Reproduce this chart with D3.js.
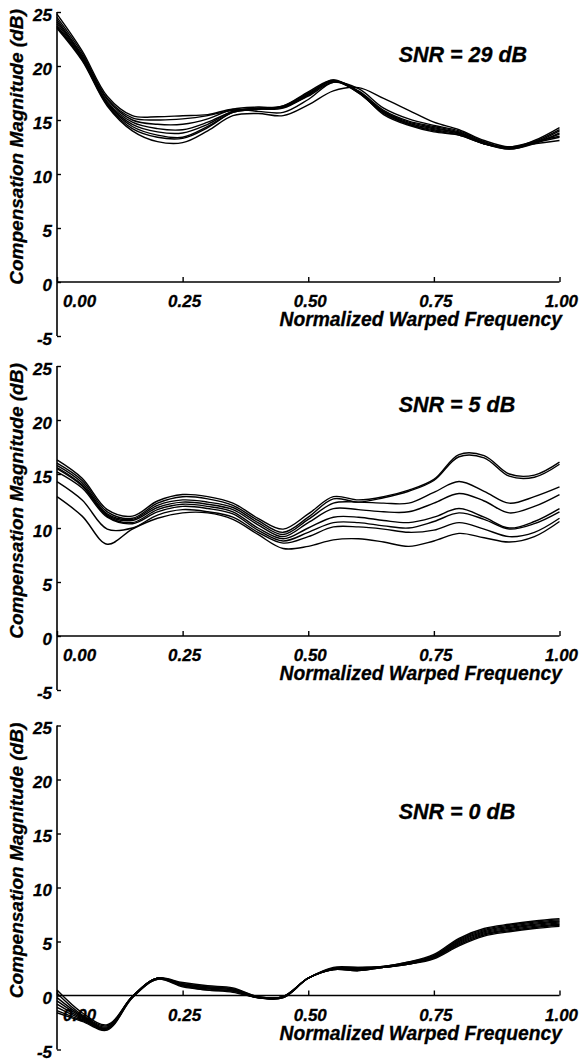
<!DOCTYPE html>
<html>
<head>
<meta charset="utf-8">
<script src="https://cdn.jsdelivr.net/npm/d3@7"></script>
<style>
	body { margin: 0; background: #fff; }
	svg text { font-family: "Liberation Sans", Arial, sans-serif; font-weight: bold; font-style: italic; fill: #000; stroke: #000; stroke-width: 0.3px; }
</style>
</head>
<body>
<div id="chart"></div>
<script>

// normalized warped frequency, sampling points used for all curves
var freq = [0, 0.05, 0.10, 0.15, 0.20, 0.25, 0.30, 0.35, 0.40, 0.45, 0.50,
	0.55, 0.60, 0.65, 0.70, 0.75, 0.80, 0.85, 0.90, 0.95, 1.00];

// compensation magnitude (dB), one row per trial
var snr29Curves = [
	[24.8, 21.4, 17.2, 15.4, 15.3, 15.4, 15.5, 16.0, 15.8, 15.7, 16.9, 18.5, 17.9, 16.1, 15.1, 14.5, 14.0, 13.0, 12.4, 13.0, 14.1],
	[24.5, 21.2, 17.0, 15.2, 15.0, 15.1, 15.4, 15.9, 16.0, 16.1, 17.3, 18.6, 17.7, 15.9, 14.9, 14.4, 13.9, 12.9, 12.4, 13.1, 14.3],
	[24.3, 21.0, 16.9, 15.0, 14.6, 14.6, 15.1, 16.0, 16.2, 16.2, 17.4, 18.7, 17.6, 15.8, 14.8, 14.3, 13.8, 12.9, 12.3, 12.9, 14.0],
	[24.1, 20.9, 16.7, 14.8, 14.2, 14.1, 14.8, 15.8, 16.1, 16.3, 17.6, 18.7, 17.5, 15.7, 14.7, 14.2, 13.8, 12.8, 12.3, 12.8, 13.8],
	[23.9, 20.8, 16.6, 14.6, 13.9, 13.8, 14.6, 15.8, 16.1, 16.2, 17.4, 18.6, 17.5, 15.6, 14.6, 14.1, 13.7, 12.8, 12.4, 12.9, 13.7],
	[23.7, 20.7, 16.5, 14.4, 13.6, 13.4, 14.4, 15.7, 16.0, 16.2, 17.2, 18.5, 17.6, 15.7, 14.6, 14.0, 13.6, 12.8, 12.5, 13.0, 13.5],
	[23.6, 20.6, 16.4, 14.2, 13.4, 13.3, 14.3, 15.7, 16.0, 16.3, 17.5, 18.6, 17.6, 15.5, 14.5, 13.9, 13.6, 12.8, 12.5, 12.9, 13.4],
	[23.5, 20.5, 16.3, 14.0, 13.0, 12.9, 14.0, 15.4, 15.6, 15.4, 16.4, 17.7, 18.0, 17.0, 15.9, 14.8, 14.1, 13.1, 12.5, 12.8, 13.1]
];

var snr5Curves = [
	[16.3, 14.6, 11.7, 11.1, 12.5, 13.1, 12.9, 12.3, 10.9, 9.9, 11.3, 12.9, 12.6, 12.9, 13.5, 14.5, 16.8, 16.7, 15.0, 14.9, 16.1],
	[16.0, 14.4, 11.5, 10.9, 12.3, 12.9, 12.7, 12.1, 10.7, 9.6, 11.0, 12.7, 12.4, 12.8, 13.4, 14.4, 16.6, 16.5, 14.8, 14.7, 15.9],
	[15.8, 14.2, 11.3, 10.8, 12.1, 12.6, 12.4, 11.9, 10.5, 9.4, 10.8, 12.3, 12.4, 12.3, 12.3, 13.3, 14.3, 13.4, 12.3, 12.9, 13.8],
	[15.6, 14.0, 11.2, 10.7, 11.9, 12.4, 12.2, 11.7, 10.3, 9.2, 10.5, 11.8, 11.7, 11.5, 11.5, 12.3, 13.2, 12.5, 11.4, 12.0, 13.1],
	[15.5, 13.9, 11.1, 10.5, 11.7, 12.2, 12.0, 11.5, 10.0, 9.0, 10.0, 11.0, 11.0, 10.7, 10.5, 11.0, 11.8, 11.0, 10.0, 10.6, 11.8],
	[15.2, 13.7, 11.0, 10.4, 11.5, 12.0, 11.8, 11.3, 9.8, 8.8, 9.6, 10.5, 10.5, 10.2, 10.0, 10.6, 11.4, 10.8, 9.9, 10.4, 11.5],
	[14.3, 12.6, 9.9, 10.0, 11.2, 11.7, 11.5, 11.0, 9.6, 8.6, 9.2, 10.1, 10.1, 9.9, 9.6, 9.8, 10.5, 9.9, 9.2, 9.6, 10.9],
	[12.9, 11.1, 8.5, 9.9, 10.9, 11.4, 11.4, 10.8, 9.4, 8.1, 8.3, 8.9, 9.0, 8.7, 8.3, 8.8, 9.5, 9.1, 8.7, 9.2, 10.6]
];

var snr0Curves = [
	[0.5, -1.6, -2.7, -0.1, 1.6, 1.2, 0.9, 0.7, -0.1, -0.1, 1.6, 2.6, 2.6, 2.7, 3.1, 3.8, 5.3, 6.2, 6.6, 6.9, 7.1],
	[0.2, -1.8, -2.8, -0.1, 1.6, 1.1, 0.8, 0.6, -0.1, -0.1, 1.6, 2.5, 2.6, 2.7, 3.1, 3.7, 5.2, 6.1, 6.5, 6.8, 7.0],
	[-0.2, -1.9, -2.9, -0.1, 1.6, 1.1, 0.8, 0.6, -0.2, -0.1, 1.6, 2.5, 2.5, 2.7, 3.0, 3.7, 5.1, 6.0, 6.4, 6.7, 6.9],
	[-0.5, -2.0, -3.0, -0.1, 1.6, 1.0, 0.7, 0.5, -0.2, -0.1, 1.6, 2.5, 2.5, 2.6, 3.0, 3.6, 5.0, 5.9, 6.3, 6.6, 6.8],
	[-0.8, -2.1, -3.0, -0.1, 1.6, 1.0, 0.7, 0.5, -0.2, -0.1, 1.6, 2.4, 2.4, 2.6, 3.0, 3.6, 4.9, 5.8, 6.2, 6.5, 6.7],
	[-1.1, -2.2, -3.1, -0.1, 1.6, 0.9, 0.6, 0.4, -0.2, -0.2, 1.6, 2.4, 2.4, 2.6, 2.9, 3.5, 4.8, 5.7, 6.1, 6.4, 6.6],
	[-1.4, -2.3, -3.1, -0.2, 1.5, 0.9, 0.5, 0.4, -0.2, -0.2, 1.6, 2.4, 2.3, 2.6, 2.9, 3.5, 4.7, 5.6, 6.0, 6.3, 6.5],
	[-1.6, -2.4, -3.2, -0.2, 1.5, 0.8, 0.5, 0.3, -0.2, -0.2, 1.6, 2.4, 2.3, 2.6, 2.9, 3.4, 4.6, 5.5, 5.9, 6.2, 6.4]
];

var snrLabels = ["SNR = 29 dB", "SNR = 5 dB", "SNR = 0 dB"];
var xTicks = [0, 0.25, 0.5, 0.75, 1.0];
var yTicks = [-5, 0, 5, 10, 15, 20, 25];

var W = 580, H = 1062;
var svg = d3.select("#chart").append("svg")
	.attr("width", W)
	.attr("height", H);

var x = d3.scaleLinear().domain([0, 1]).range([57, 559.5]);

// top pixel (25 dB) of each panel, and where the SNR note sits (in data units)
var panels = [
	{ curves: snr29Curves, top: 12,    note: { f: 0.68, db: 20.4 } },
	{ curves: snr5Curves,  top: 366,   note: { f: 0.68, db: 20.7 } },
	{ curves: snr0Curves,  top: 725.5, note: { f: 0.68, db: 16.3 } }
];

panels.forEach(function (p, i) {
	drawPanel(p, snrLabels[i]);
});

function drawPanel(p, label) {
	var y = d3.scaleLinear().domain([-5, 25]).range([p.top + 324, p.top]);
	var g = svg.append("g");

	// y axis, ticks point inwards
	var yAxis = d3.axisRight(y).tickValues(yTicks).tickSize(4).tickFormat("");
	g.append("g")
		.attr("transform", "translate(" + x(0) + ",0)")
		.call(yAxis)
		.call(function (a) {
			a.select(".domain").attr("d", "M0," + y(-5) + "V" + y(25)).attr("stroke-width", 1.6);
			a.selectAll(".tick line").attr("stroke-width", 1.4);
		});

	g.selectAll(".ylab")
		.data(yTicks)
		.enter()
		.append("text")
		.attr("x", 52)
		.attr("y", function (d) { return y(d) + 8.6; })
		.attr("text-anchor", "end")
		.style("font-size", "17px")
		.text(function (d) { return d; });

	// x axis along 0 dB, ticks pointing up
	var xAxis = d3.axisTop(x).tickValues(xTicks).tickSize(5).tickFormat("");
	g.append("g")
		.attr("transform", "translate(0," + y(0) + ")")
		.call(xAxis)
		.call(function (a) {
			a.select(".domain").attr("d", "M" + x(0) + ",0H" + x(1)).attr("stroke-width", 1.6);
			a.selectAll(".tick line").attr("stroke-width", 1.4);
		});

	g.selectAll(".xlab")
		.data(xTicks)
		.enter()
		.append("text")
		.attr("x", function (d) { return d == 0 ? x(0) + 6 : x(d) + 2; })
		.attr("y", y(0) + 25)
		.attr("text-anchor", function (d) { return d == 0 ? "start" : "middle"; })
		.style("font-size", "17px")
		.text(function (d) { return d3.format(".2f")(d); });

	g.append("text")
		.attr("x", 562)
		.attr("y", y(0) + 44)
		.attr("text-anchor", "end")
		.style("font-size", "19.3px")
		.text("Normalized Warped Frequency");

	g.append("text")
		.attr("transform", "translate(23," + y(12.5) + ") rotate(-90)")
		.attr("text-anchor", "middle")
		.style("font-size", "19px")
		.text("Compensation Magnitude (dB)");

	g.append("text")
		.attr("x", x(p.note.f))
		.attr("y", y(p.note.db))
		.style("font-size", "21.5px")
		.text(label);

	var line = d3.line()
		.x(function (d, k) { return x(freq[k]); })
		.y(function (d) { return y(d); })
		.curve(d3.curveCatmullRom.alpha(0.5));

	g.append("g")
		.selectAll("path")
		.data(p.curves)
		.enter()
		.append("path")
		.attr("d", line)
		.attr("fill", "none")
		.attr("stroke", "#000")
		.attr("stroke-width", 1.4);
}

</script>
</body>
</html>
